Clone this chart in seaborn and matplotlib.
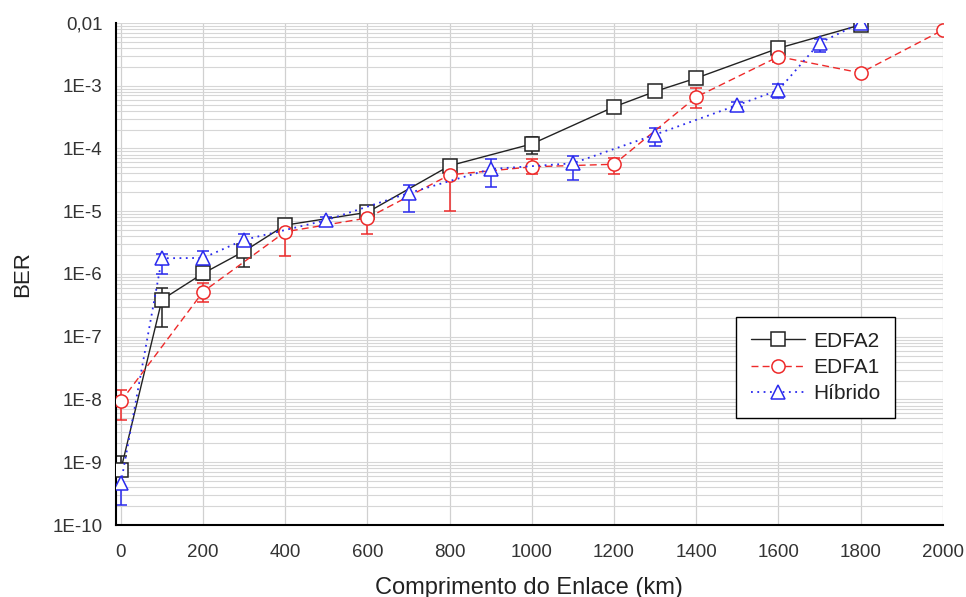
import numpy as np
import pandas as pd
import matplotlib
matplotlib.use("Agg")
import matplotlib.pyplot as plt
from matplotlib.ticker import LogLocator, FixedLocator, MultipleLocator, NullFormatter
import seaborn as sns

# ---------------- data ----------------
edfa2_x = [0, 100, 200, 300, 400, 600, 800, 1000, 1200, 1300, 1400, 1600, 1800]
edfa2_y = [7.6e-10, 3.9e-7, 1.02e-6, 2.3e-6, 6.0e-6, 9.6e-6, 5.3e-5, 1.18e-4, 4.6e-4, 8.1e-4, 1.32e-3, 3.95e-3, 9.3e-3]
edfa2_lo = [6.5e-10, 1.45e-7, 8.0e-7, 1.3e-6, 5.5e-6, 8.8e-6, 4.8e-5, 8.2e-5, 4.2e-4, 7.6e-4, 1.22e-3, 3.6e-3, 8.6e-3]
edfa2_hi = [1.25e-9, 6.0e-7, 1.3e-6, 2.9e-6, 6.5e-6, 1.05e-5, 6.0e-5, 1.5e-4, 5.0e-4, 8.8e-4, 1.42e-3, 4.4e-3, 1.02e-2]

edfa1_x = [0, 200, 400, 600, 800, 1000, 1200, 1400, 1600, 1800, 2000]
edfa1_y = [9.3e-9, 5.2e-7, 4.7e-6, 7.8e-6, 3.8e-5, 5.1e-5, 5.6e-5, 6.6e-4, 2.9e-3, 1.6e-3, 7.7e-3]
edfa1_lo = [4.7e-9, 3.6e-7, 1.95e-6, 4.4e-6, 1.0e-5, 3.9e-5, 3.9e-5, 4.4e-4, 2.4e-3, 1.45e-3, 7.2e-3]
edfa1_hi = [1.4e-8, 7.3e-7, 6.3e-6, 9.8e-6, 6.6e-5, 6.8e-5, 7.0e-5, 9.2e-4, 3.7e-3, 1.75e-3, 8.2e-3]

hib_x = [0, 100, 200, 300, 500, 700, 900, 1100, 1300, 1500, 1600, 1700, 1800]
hib_y = [4.6e-10, 1.78e-6, 1.8e-6, 3.5e-6, 7.2e-6, 1.94e-5, 4.7e-5, 5.8e-5, 1.66e-4, 4.9e-4, 8.5e-4, 4.8e-3, 1.0e-2]
hib_lo = [2.1e-10, 1.0e-6, 1.4e-6, 2.7e-6, 6.4e-6, 9.8e-6, 2.4e-5, 3.1e-5, 1.1e-4, 4.5e-4, 6.3e-4, 3.5e-3, 9.4e-3]
hib_hi = [7.6e-10, 2.1e-6, 2.3e-6, 4.3e-6, 8.0e-6, 2.6e-5, 6.8e-5, 7.7e-5, 2.1e-4, 5.4e-4, 1.07e-3, 5.5e-3, 1.08e-2]

series_names = ["EDFA2", "EDFA1", "Híbrido"]
y_tick_values = [1e-10, 1e-9, 1e-8, 1e-7, 1e-6, 1e-5, 1e-4, 1e-3, 1e-2]
y_tick_labels = ["1E-10", "1E-9", "1E-8", "1E-7", "1E-6", "1E-5", "1E-4", "1E-3", "0,01"]
x_tick_values = [0, 200, 400, 600, 800, 1000, 1200, 1400, 1600, 1800, 2000]

# ---------------- style ----------------
sns.set_style("white")
plt.rcParams["font.family"] = ["Liberation Sans", "DejaVu Sans"]

fig = plt.figure(figsize=(9.66, 5.97), dpi=100)
ax = fig.add_axes([0.120, 0.1206, 0.856, 0.841])

series = [
    (edfa2_x, edfa2_y, edfa2_lo, edfa2_hi, "#222222", "-", "s", 1.0),
    (edfa1_x, edfa1_y, edfa1_lo, edfa1_hi, "#ee2a2a", (0, (5, 3)), "o", 1.0),
    (hib_x, hib_y, hib_lo, hib_hi, "#2a2aee", (0, (1, 2.5)), "^", 1.3),
]

for name, (xs, ys, lo, hi, col, ls, mk, lw) in zip(series_names, series):
    df = pd.DataFrame({"x": xs, "y": ys})
    sns.lineplot(data=df, x="x", y="y", ax=ax, color=col, linestyle=ls,
                 linewidth=lw, marker=mk, markersize=9.5, markerfacecolor="white",
                 markeredgecolor=col, markeredgewidth=1.1, label=name, zorder=3)
    ys_a = np.array(ys); lo_a = np.array(lo); hi_a = np.array(hi)
    ax.errorbar(xs, ys_a, yerr=[ys_a - lo_a, hi_a - ys_a], fmt="none",
                ecolor=col, elinewidth=1.1, capsize=4, capthick=1.1, zorder=2)

ax.set_yscale("log")
ax.set_ylim(1e-10, 1e-2)
ax.set_xlim(-12, 2000)

ax.yaxis.set_major_locator(FixedLocator(y_tick_values))
ax.set_yticklabels(y_tick_labels)
ax.yaxis.set_minor_locator(LogLocator(base=10, subs=np.arange(2, 10), numticks=100))
ax.yaxis.set_minor_formatter(NullFormatter())
ax.xaxis.set_major_locator(FixedLocator(x_tick_values))
ax.xaxis.set_minor_locator(MultipleLocator(100))

ax.grid(True, which="major", axis="x", color="#d0d0d0", linewidth=0.9)
ax.grid(True, which="both", axis="y", color="#d6d6d6", linewidth=0.8)
ax.set_axisbelow(True)

for s in ["top", "right"]:
    ax.spines[s].set_visible(False)
for s in ["left", "bottom"]:
    ax.spines[s].set_color("black")
    ax.spines[s].set_linewidth(1.5)

ax.tick_params(axis="both", which="major", direction="out", length=6, width=1.3,
               labelsize=13.5, labelcolor="#333333", color="black")
ax.tick_params(axis="x", which="major", pad=8)
ax.tick_params(axis="both", which="minor", direction="out", length=3.5, width=1.1, color="black")

ax.set_xlabel("Comprimento do Enlace (km)", fontsize=17, color="#222222", labelpad=11)
ax.set_ylabel("BER", fontsize=16, color="#222222", labelpad=14)

leg = ax.legend(loc="upper left", bbox_to_anchor=(0.750, 0.414), borderaxespad=0,
                fontsize=15, frameon=True, fancybox=False, edgecolor="black", framealpha=1,
                handlelength=2.6, borderpad=0.7, labelspacing=0.35, handletextpad=0.4)
leg.get_frame().set_linewidth(1.0)
for t in leg.get_texts():
    t.set_color("#222222")

fig.savefig("out.png", dpi=100)
